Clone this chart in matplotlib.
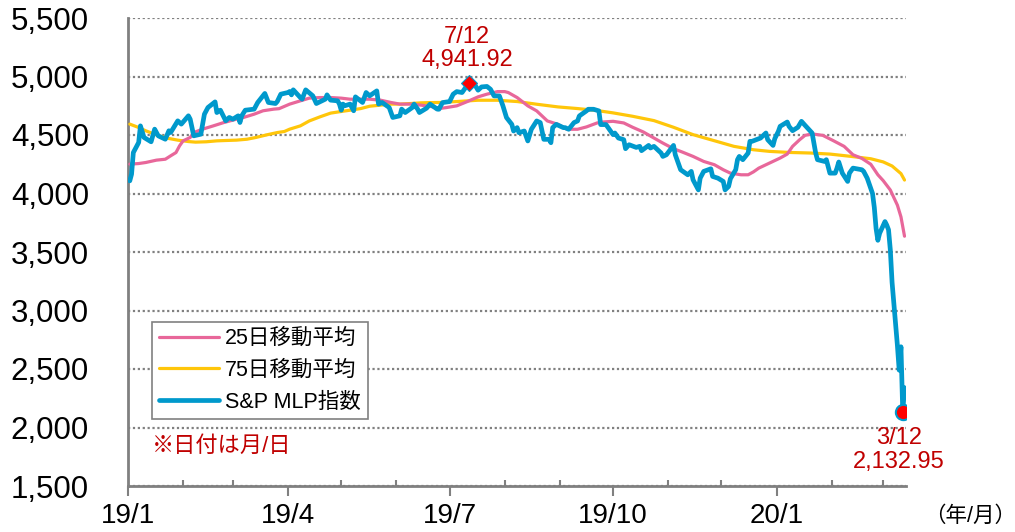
import matplotlib
matplotlib.use("Agg")
import matplotlib.pyplot as plt
import matplotlib.dates as mdates
import matplotlib.ticker as mticker
import pandas as pd

plt.rcParams['font.family'] = ['Liberation Sans', 'Noto Sans CJK JP']

# S&P MLP index (daily close, read at turning points)
mlp_dates = [
    "2019-01-02", "2019-01-03", "2019-01-04", "2019-01-07", "2019-01-08", "2019-01-10",
    "2019-01-14", "2019-01-16", "2019-01-18", "2019-01-22", "2019-01-24", "2019-01-25",
    "2019-01-29", "2019-01-31", "2019-02-04", "2019-02-05", "2019-02-07", "2019-02-11",
    "2019-02-13", "2019-02-15", "2019-02-19", "2019-02-20", "2019-02-22", "2019-02-25",
    "2019-02-27", "2019-03-01", "2019-03-04", "2019-03-05", "2019-03-06", "2019-03-08",
    "2019-03-13", "2019-03-15", "2019-03-19", "2019-03-21", "2019-03-25", "2019-03-26",
    "2019-03-28", "2019-04-01", "2019-04-02", "2019-04-03", "2019-04-04", "2019-04-08",
    "2019-04-09", "2019-04-11", "2019-04-15", "2019-04-17", "2019-04-22", "2019-04-23",
    "2019-04-25", "2019-04-29", "2019-04-30", "2019-05-01", "2019-05-02", "2019-05-03",
    "2019-05-06", "2019-05-08", "2019-05-09", "2019-05-13", "2019-05-15", "2019-05-17",
    "2019-05-21", "2019-05-22", "2019-05-24", "2019-05-28", "2019-05-30", "2019-06-03",
    "2019-06-04", "2019-06-06", "2019-06-10", "2019-06-11", "2019-06-13", "2019-06-14",
    "2019-06-18", "2019-06-20", "2019-06-24", "2019-06-25", "2019-06-26", "2019-06-27",
    "2019-07-01", "2019-07-03", "2019-07-05", "2019-07-08", "2019-07-10", "2019-07-12",
    "2019-07-15", "2019-07-17", "2019-07-19", "2019-07-22", "2019-07-24", "2019-07-26",
    "2019-07-29", "2019-07-31", "2019-08-02", "2019-08-05", "2019-08-06", "2019-08-08",
    "2019-08-09", "2019-08-12", "2019-08-14", "2019-08-16", "2019-08-19", "2019-08-21",
    "2019-08-23", "2019-08-26", "2019-08-27", "2019-08-28", "2019-08-30", "2019-09-03",
    "2019-09-04", "2019-09-06", "2019-09-09", "2019-09-11", "2019-09-12", "2019-09-16",
    "2019-09-17", "2019-09-20", "2019-09-23", "2019-09-24", "2019-09-26", "2019-09-27",
    "2019-10-01", "2019-10-02", "2019-10-04", "2019-10-07", "2019-10-08", "2019-10-10",
    "2019-10-14", "2019-10-16", "2019-10-17", "2019-10-21", "2019-10-22", "2019-10-24",
    "2019-10-28", "2019-10-29", "2019-10-31", "2019-11-04", "2019-11-05", "2019-11-07",
    "2019-11-08", "2019-11-12", "2019-11-14", "2019-11-15", "2019-11-18", "2019-11-19",
    "2019-11-21", "2019-11-25", "2019-11-26", "2019-11-29", "2019-12-02", "2019-12-03",
    "2019-12-05", "2019-12-06", "2019-12-09", "2019-12-10", "2019-12-11", "2019-12-13",
    "2019-12-16", "2019-12-17", "2019-12-18", "2019-12-23", "2019-12-24", "2019-12-26",
    "2019-12-27", "2019-12-30", "2019-12-31", "2020-01-02", "2020-01-03", "2020-01-07",
    "2020-01-08", "2020-01-10", "2020-01-13", "2020-01-15", "2020-01-17", "2020-01-21",
    "2020-01-22", "2020-01-23", "2020-01-24", "2020-01-28", "2020-01-29", "2020-01-31",
    "2020-02-03", "2020-02-04", "2020-02-05", "2020-02-07", "2020-02-10", "2020-02-11",
    "2020-02-13", "2020-02-18", "2020-02-19", "2020-02-21", "2020-02-24", "2020-02-25",
    "2020-02-26", "2020-02-27", "2020-02-28", "2020-03-02", "2020-03-03", "2020-03-04",
    "2020-03-05", "2020-03-06", "2020-03-09", "2020-03-10", "2020-03-11", "2020-03-12",
    "2020-03-13",
]
mlp_values = [
    4108, 4165, 4350, 4436, 4578, 4479,
    4442, 4550, 4493, 4464, 4536, 4521,
    4621, 4593, 4664, 4635, 4493, 4507,
    4678, 4735, 4783, 4692, 4712, 4621,
    4650, 4635, 4664, 4607, 4664, 4712,
    4721, 4778, 4855, 4778, 4769, 4786,
    4849, 4863, 4872, 4843, 4886, 4820,
    4806, 4886, 4835, 4769, 4806, 4843,
    4798, 4792, 4764, 4712, 4764, 4750,
    4764, 4707, 4826, 4778, 4863, 4835,
    4877, 4764, 4778, 4735, 4650, 4664,
    4721, 4692, 4735, 4764, 4721, 4692,
    4729, 4764, 4721, 4720, 4750, 4777,
    4786, 4849, 4871, 4863, 4906, 4941.92,
    4934, 4883, 4911, 4915, 4891, 4834,
    4834, 4749, 4649, 4591, 4534, 4563,
    4520, 4534, 4449, 4549, 4620, 4606,
    4463, 4463, 4434, 4563, 4591, 4563,
    4563, 4549, 4606, 4620, 4663, 4706,
    4720, 4720, 4706, 4589, 4589, 4589,
    4503, 4517, 4474, 4460, 4383, 4417,
    4394, 4403, 4366, 4411, 4389, 4403,
    4346, 4317, 4331, 4411, 4331, 4246,
    4203, 4160, 4189, 4117, 4031, 4131,
    4189, 4211, 4146, 4131, 4103, 4031,
    4060, 4126, 4203, 4289, 4317, 4289,
    4346, 4446, 4445, 4474, 4489, 4517,
    4460, 4411, 4469, 4531, 4574, 4611,
    4574, 4537, 4566, 4617, 4583, 4517,
    4431, 4346, 4289, 4274, 4289, 4174,
    4174, 4217, 4269, 4174, 4103, 4174,
    4217, 4203, 4189, 4131, 4000, 3880,
    3700, 3600, 3660, 3760, 3730, 3690,
    3520, 3240, 2700, 2490, 2690, 2132.95,
    2340,
]

# 25-day moving average
ma25_dates = [
    "2019-01-02", "2019-01-07", "2019-01-11", "2019-01-17", "2019-01-22", "2019-01-25",
    "2019-01-28", "2019-01-30", "2019-02-01", "2019-02-05", "2019-02-07", "2019-02-12",
    "2019-02-18", "2019-02-24", "2019-03-01", "2019-03-07", "2019-03-13", "2019-03-18",
    "2019-03-24", "2019-03-27", "2019-04-02", "2019-04-08", "2019-04-13", "2019-04-19",
    "2019-04-25", "2019-05-01", "2019-05-06", "2019-05-12", "2019-05-17", "2019-05-23",
    "2019-05-29", "2019-06-03", "2019-06-09", "2019-06-15", "2019-06-20", "2019-06-26",
    "2019-06-29", "2019-07-05", "2019-07-11", "2019-07-17", "2019-07-22", "2019-07-28",
    "2019-08-01", "2019-08-03", "2019-08-08", "2019-08-14", "2019-08-19", "2019-08-25",
    "2019-08-31", "2019-09-05", "2019-09-11", "2019-09-16", "2019-09-22", "2019-09-25",
    "2019-10-01", "2019-10-07", "2019-10-12", "2019-10-18", "2019-10-24", "2019-10-29",
    "2019-11-04", "2019-11-09", "2019-11-15", "2019-11-21", "2019-11-27", "2019-12-02",
    "2019-12-06", "2019-12-12", "2019-12-16", "2019-12-19", "2019-12-22", "2019-12-28",
    "2020-01-03", "2020-01-07", "2020-01-10", "2020-01-14", "2020-01-17", "2020-01-21",
    "2020-01-27", "2020-02-02", "2020-02-08", "2020-02-13", "2020-02-18", "2020-02-23",
    "2020-02-27", "2020-03-01", "2020-03-05", "2020-03-09", "2020-03-11", "2020-03-13",
]
ma25_values = [
    4251, 4256, 4265, 4285, 4293, 4322,
    4350, 4407, 4450, 4479, 4521, 4550,
    4578, 4607, 4627, 4650, 4678, 4707,
    4721, 4725, 4764, 4792, 4815, 4820,
    4820, 4815, 4806, 4806, 4806, 4798,
    4778, 4764, 4764, 4755, 4745, 4728,
    4734, 4749, 4786, 4826, 4849, 4871,
    4871, 4863, 4820, 4749, 4706, 4620,
    4591, 4549, 4549, 4569, 4603, 4611,
    4617, 4603, 4566, 4526, 4474, 4431,
    4383, 4354, 4317, 4274, 4246, 4203,
    4174, 4160, 4160, 4185, 4217, 4260,
    4303, 4337, 4403, 4460, 4497, 4509,
    4497, 4451, 4403, 4331, 4300, 4250,
    4160, 4110, 4030, 3900, 3800, 3635,
]

# 75-day moving average
ma75_dates = [
    "2019-01-02", "2019-01-07", "2019-01-11", "2019-01-17", "2019-01-23", "2019-01-29",
    "2019-02-04", "2019-02-08", "2019-02-14", "2019-02-20", "2019-02-25", "2019-03-03",
    "2019-03-09", "2019-03-14", "2019-03-20", "2019-03-26", "2019-03-30", "2019-04-02",
    "2019-04-08", "2019-04-13", "2019-04-19", "2019-04-25", "2019-05-01", "2019-05-06",
    "2019-05-12", "2019-05-17", "2019-05-23", "2019-05-29", "2019-06-03", "2019-06-09",
    "2019-06-15", "2019-06-20", "2019-06-26", "2019-07-05", "2019-07-17", "2019-07-28",
    "2019-08-08", "2019-08-19", "2019-08-31", "2019-09-11", "2019-09-22", "2019-10-01",
    "2019-10-12", "2019-10-24", "2019-11-04", "2019-11-15", "2019-11-27", "2019-12-08",
    "2019-12-19", "2019-12-28", "2020-01-08", "2020-01-20", "2020-01-31", "2020-02-12",
    "2020-02-23", "2020-03-01", "2020-03-06", "2020-03-11", "2020-03-13",
]
ma75_values = [
    4593, 4564, 4536, 4501, 4473, 4456,
    4444, 4439, 4442, 4450, 4453, 4456,
    4464, 4479, 4501, 4521, 4530, 4550,
    4578, 4620, 4655, 4687, 4701, 4712,
    4726, 4746, 4755, 4764, 4764, 4769,
    4775, 4777, 4778, 4786, 4797, 4797,
    4786, 4763, 4740, 4726, 4709, 4689,
    4660, 4623, 4566, 4503, 4451, 4403,
    4374, 4360, 4351, 4346, 4337, 4317,
    4297, 4270, 4235, 4170, 4115,
]

high_date, high_value = "2019-07-12", 4941.92
low_date, low_value = "2020-03-12", 2132.95

PINK = "#E8679A"
YELLOW = "#FFC60A"
BLUE = "#0099CC"
GRAY = "#808080"
DARKRED = "#C00000"

fig = plt.figure(figsize=(10.15, 5.32), dpi=100)
ax = fig.add_axes([128 / 1015, 46 / 532, 778 / 1015, 468 / 532])

l75, = ax.plot(pd.to_datetime(ma75_dates), ma75_values, color=YELLOW, lw=2.3,
               solid_capstyle="round", label="75日移動平均", zorder=3)
l25, = ax.plot(pd.to_datetime(ma25_dates), ma25_values, color=PINK, lw=2.3,
               solid_capstyle="round", label="25日移動平均", zorder=4)
lmlp, = ax.plot(pd.to_datetime(mlp_dates), mlp_values, color=BLUE, lw=3.4,
                solid_joinstyle="round", solid_capstyle="round",
                label="S&P MLP指数", zorder=5)

# high / low markers
ax.plot(pd.Timestamp(high_date), high_value, marker="D", ms=8, color="red",
        mec=BLUE, mew=0.8, zorder=6)
ax.plot(pd.Timestamp(low_date), low_value, marker="o", ms=11, color="red",
        mec=BLUE, mew=1.5, zorder=6)

ax.annotate("7/12\n{:,.2f}".format(high_value), (pd.Timestamp(high_date), high_value),
            xytext=(-2, 12), textcoords="offset pixels", ha="center", va="bottom",
            color=DARKRED, fontsize=17, linespacing=1.1)
ax.annotate("3/12\n{:,.2f}".format(low_value), (pd.Timestamp(low_date), low_value),
            xytext=(-4, -15), textcoords="offset pixels", ha="center", va="top",
            color=DARKRED, fontsize=17, linespacing=1.1)

# axes ranges
ax.set_ylim(1500, 5500)
ax.set_xlim(pd.Timestamp("2019-01-01"), pd.Timestamp("2020-03-13 20:00"))
ax.yaxis.set_major_locator(mticker.MultipleLocator(500))
ax.yaxis.set_major_formatter(mticker.FuncFormatter(lambda v, p: "{:,.0f}".format(v)))
ax.xaxis.set_major_locator(mdates.MonthLocator(bymonth=[1, 4, 7, 10]))
ax.xaxis.set_minor_locator(mdates.MonthLocator())
ax.xaxis.set_major_formatter(mticker.FuncFormatter(
    lambda v, p: "{}/{}".format(mdates.num2date(v).year % 100, mdates.num2date(v).month)))

ax.grid(axis="y", color=GRAY, lw=1.6, ls=(0, (1, 1.2)))
ax.set_axisbelow(True)
for s in ["top", "right"]:
    ax.spines[s].set_visible(False)
for s in ["left", "bottom"]:
    ax.spines[s].set_color(GRAY)
    ax.spines[s].set_linewidth(2)

ax.tick_params(axis="y", length=0, pad=28, labelsize=22.5)
ax.tick_params(axis="x", which="major", direction="out", length=7, width=1.5,
               color=GRAY, pad=5, labelsize=20)
ax.tick_params(axis="x", which="minor", direction="in", length=4.5, width=1.5,
               color=GRAY)

leg = ax.legend(handles=[l25, l75, lmlp], loc="upper left",
                bbox_to_anchor=(0.031, 0.351), borderaxespad=0, fontsize=15.5,
                fancybox=False, framealpha=1, edgecolor=GRAY, handlelength=2.8,
                handletextpad=0.3, labelspacing=0.5, borderpad=0.3)
leg.get_frame().set_linewidth(1.2)

fig.text(152 / 1015, 1 - 446 / 532, "※日付は月/日", color=DARKRED, fontsize=16,
         ha="left", va="center")
fig.text(970 / 1015, 1 - 516 / 532, "（年/月）", fontsize=15.5, ha="center", va="center")

fig.savefig("out.png", dpi=100)
